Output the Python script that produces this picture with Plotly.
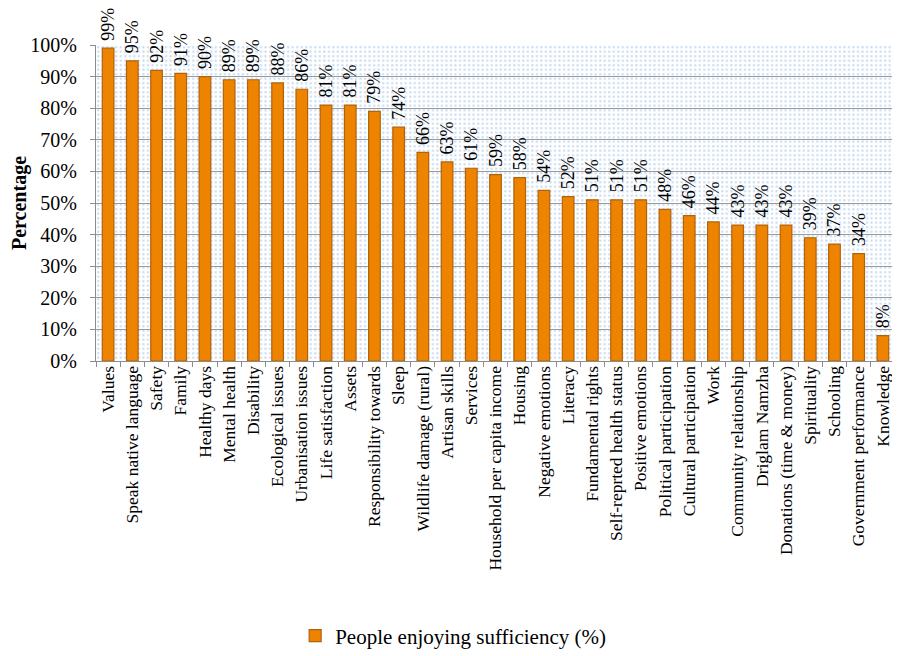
import base64
import plotly.graph_objects as go

categories = [
    "Values", "Speak native language", "Safety", "Family", "Healthy days",
    "Mental health", "Disability", "Ecological issues", "Urbanisation issues",
    "Life satisfaction", "Assets", "Responsibility towards", "Sleep",
    "Wildlife damage (rural)", "Artisan skills", "Services",
    "Household per capita income", "Housing", "Negative emotions", "Literacy",
    "Fundamental rights", "Self-reprted health status", "Positive emotions",
    "Political participation", "Cultural participation", "Work",
    "Community relationship", "Driglam Namzha", "Donations (time & money)",
    "Spirituality", "Schooling", "Government performance", "Knowledge",
]
values_pct = [99, 95, 92, 91, 90, 89, 89, 88, 86, 81, 81, 79, 74, 66, 63, 61,
              59, 58, 54, 52, 51, 51, 51, 48, 46, 44, 43, 43, 43, 39, 37, 34, 8]
series_name = "People enjoying sufficiency (%)"

values = [v / 100 for v in values_pct]

FONT = "Liberation Serif"

# dotted background pattern (like Excel's pattern fill)
W, H = 795, 316
svg = (
    f'<svg xmlns="http://www.w3.org/2000/svg" width="{W}" height="{H}">'
    '<defs><pattern id="p" width="4.5" height="4.5" patternUnits="userSpaceOnUse">'
    '<rect width="4.5" height="4.5" fill="#ffffff"/>'
    '<rect x="1.2" y="1.2" width="2" height="2" fill="#c3d7ef"/>'
    '</pattern></defs>'
    f'<rect width="{W}" height="{H}" fill="url(#p)"/></svg>'
)
src = "data:image/svg+xml;base64," + base64.b64encode(svg.encode()).decode()

fig = go.Figure()
fig.add_trace(go.Bar(
    x=categories, y=values, name=series_name,
    marker=dict(color="#EE8300", line=dict(color="#B0630C", width=1.2)),
    text=values, texttemplate="&nbsp;%{y:.0%}", textposition="outside",
    textangle=-90, constraintext="none", cliponaxis=False,
    textfont=dict(family=FONT, size=18, color="black"),
    showlegend=True,
))

# the page body adds an 8px margin, so the figure is sized to the visible area
fig.update_layout(
    width=892, height=648,
    margin=dict(l=88, r=5, t=37, b=295, autoexpand=False),
    paper_bgcolor="white", plot_bgcolor="white",
    font=dict(family=FONT, size=17, color="black"),
    bargap=0.52,
    showlegend=True,
    legend=dict(orientation="h", x=0.447, xanchor="center", y=-0.87,
                yanchor="middle", font=dict(family=FONT, size=21, color="black"),
                itemwidth=30, bgcolor="rgba(0,0,0,0)"),
    images=[dict(source=src, xref="paper", yref="paper", x=0, y=1,
                 sizex=1, sizey=1, sizing="stretch", xanchor="left",
                 yanchor="top", layer="below")],
)
fig.update_yaxes(
    range=[0, 1], dtick=0.1, tickformat=".0%", automargin=False,
    showgrid=True, gridcolor="#9a9a9a", gridwidth=1,
    showline=True, linecolor="#8c8c8c", linewidth=1,
    ticks="outside", ticklen=5, tickcolor="#8c8c8c",
    tickfont=dict(family=FONT, size=20),
    ticklabelstandoff=9,
    title=dict(text="<b>Percentage</b>", standoff=9,
               font=dict(family=FONT, size=20)),
    zeroline=False,
)
fig.update_xaxes(
    type="category", tickangle=-90, tickson="boundaries", automargin=False,
    ticks="outside", ticklen=5, tickcolor="#8c8c8c",
    showline=True, linecolor="#8c8c8c", linewidth=1,
    tickfont=dict(family=FONT, size=17.5),
    ticklabelstandoff=-3,
    showgrid=False,
)

fig.write_html("out.html")
